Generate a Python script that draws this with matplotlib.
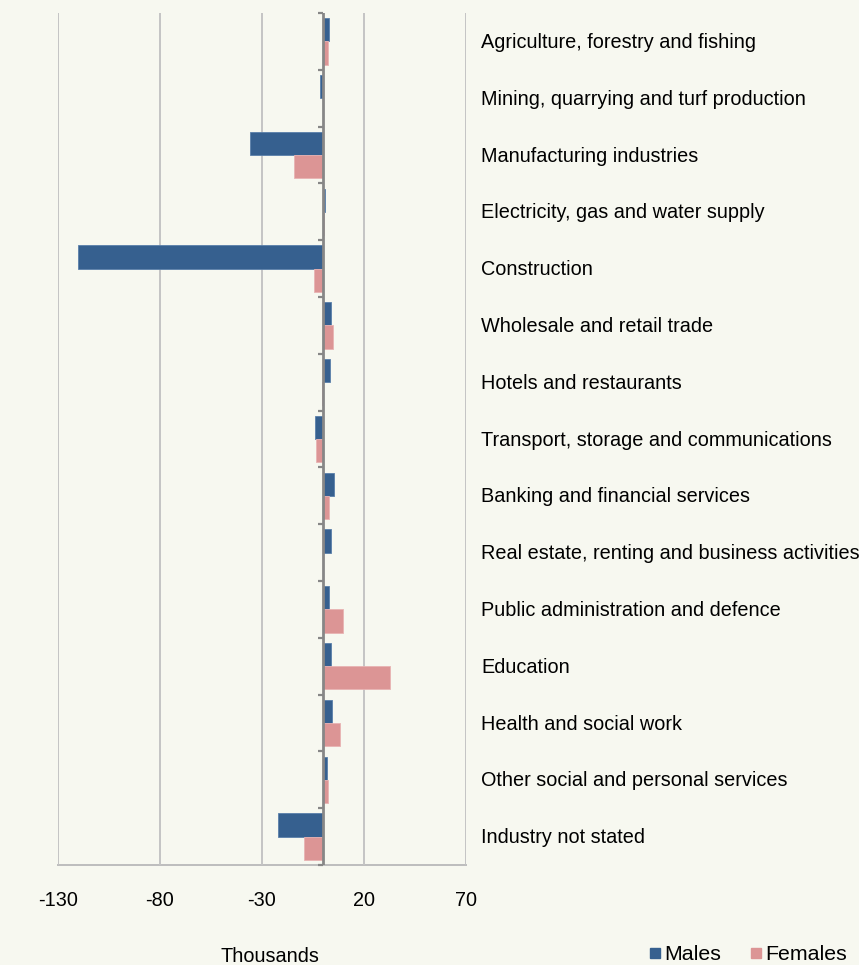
import matplotlib
matplotlib.use("Agg")
import matplotlib.pyplot as plt
from matplotlib.lines import Line2D
import numpy as np

categories = [
    "Agriculture, forestry and fishing",
    "Mining, quarrying and turf production",
    "Manufacturing industries",
    "Electricity, gas and water supply",
    "Construction",
    "Wholesale and retail trade",
    "Hotels and restaurants",
    "Transport, storage and communications",
    "Banking and financial services",
    "Real estate, renting and business activities",
    "Public administration and defence",
    "Education",
    "Health and social work",
    "Other social and personal services",
    "Industry not stated",
]
males = [2.7, -1.8, -35.8, 1.0, -120.3, 3.7, 3.4, -4.1, 5.2, 3.6, 2.7, 3.7, 4.2, 1.9, -22.1]
females = [2.3, 0.0, -14.1, 0.5, -4.4, 4.9, -0.6, -3.6, 2.7, 0.0, 9.8, 32.8, 8.1, 2.4, -9.2]
xticks = [-130, -80, -30, 20, 70]
xlabel = "Thousands"
series_names = ["Males", "Females"]

c_m = "#36608F"
c_f = "#DC9595"
bg = "#F7F8F0"

plt.rcParams['font.family'] = ['Liberation Sans', 'DejaVu Sans']
fs = 14.3

fig = plt.figure(figsize=(8.59, 9.65), dpi=100, facecolor=bg)
ax = fig.add_axes([58/859, 1-865/965, 408/859, 852/965])
ax.set_facecolor(bg)

y = np.arange(len(categories))
h = 0.41
ax.barh(y - h/2, males, height=h, color=c_m, edgecolor="#5A7FAA", linewidth=0.6, zorder=3)
ax.barh(y + h/2, females, height=h, color=c_f, edgecolor="#E8B3B3", linewidth=0.6, zorder=3)

ax.set_xlim(-130, 70)
ax.set_ylim(len(categories) - 0.5, -0.5)
ax.set_xticks(xticks)
ax.set_xticklabels([str(t) for t in xticks], fontsize=fs)
ax.tick_params(axis='x', length=0, pad=19)
ax.set_yticks([])
ax.grid(axis='x', color="#C4C4C4", linewidth=1.4, zorder=0)
for s in ['top', 'left', 'right']:
    ax.spines[s].set_visible(False)
ax.spines['bottom'].set_color("#BDBDBD")
ax.spines['bottom'].set_linewidth(1.4)
ax.spines['bottom'].set_zorder(1)

# zero axis with category boundary ticks
ax.axvline(0, color="#878787", linewidth=2, zorder=4)
for b in np.arange(-0.5, len(categories) + 0.5, 1.0):
    ax.plot([-2.6, 0], [b, b], color="#878787", linewidth=1.6, zorder=4, clip_on=False,
            solid_capstyle='butt')

trans = ax.get_yaxis_transform()
for i, c in enumerate(categories):
    ax.text((481-58)/408, i + 0.02, c, transform=trans, ha='left', va='center', fontsize=fs, color='black')

fig.text(270/859, 1-956/965, xlabel, ha='center', va='center', fontsize=fs)

handles = [Line2D([], [], linestyle='none', marker='s', markersize=7.6, color=c_m),
           Line2D([], [], linestyle='none', marker='s', markersize=7.6, color=c_f)]
fig.legend(handles, series_names, loc='center left', bbox_to_anchor=(648/859, 1-955/965),
           ncol=2, frameon=False, fontsize=15.4, handlelength=0.65, handletextpad=0.12,
           columnspacing=1.3, borderpad=0, borderaxespad=0)

fig.savefig("out.png", dpi=100, facecolor=bg)
